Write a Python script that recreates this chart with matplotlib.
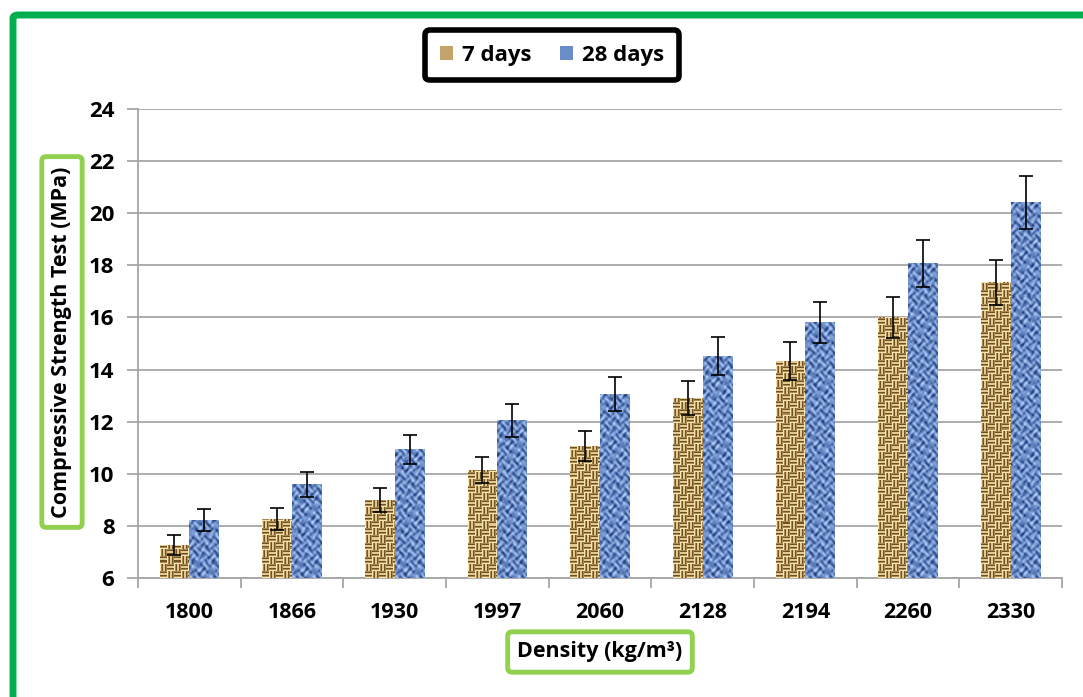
import numpy as np
import matplotlib
matplotlib.use("Agg")
import matplotlib.pyplot as plt
from matplotlib.patches import Patch, FancyBboxPatch
from matplotlib.colors import LinearSegmentedColormap

densities = ['1800', '1866', '1930', '1997', '2060', '2128', '2194', '2260', '2330']
strength_7 = [7.27, 8.26, 8.99, 10.14, 11.07, 12.9, 14.33, 16.0, 17.35]
strength_28 = [8.23, 9.6, 10.94, 12.06, 13.06, 14.51, 15.81, 18.08, 20.42]
err_7 = [0.37, 0.41, 0.45, 0.5, 0.57, 0.65, 0.72, 0.8, 0.87]
err_28 = [0.41, 0.48, 0.55, 0.63, 0.65, 0.73, 0.78, 0.9, 1.02]
yticks = [6, 8, 10, 12, 14, 16, 18, 20, 22, 24]

plt.rcParams['font.family'] = ['Open Sans', 'DejaVu Sans']
plt.rcParams['font.weight'] = 'bold'

tan_cmap = LinearSegmentedColormap.from_list('tan', ['#6f5224', '#c09e62', '#f8e6ae'])
blue_cmap = LinearSegmentedColormap.from_list('blu', ['#1d3a78', '#6a8cc8', '#b6d0f7'])


def weave(h, w):
    # basket weave look
    y, x = np.mgrid[0:h, 0:w]
    cell = 7
    checker = ((x // cell + y // cell) % 2) == 0
    return np.where(checker, 0.5 + 0.45 * np.cos(2 * np.pi * y / 3.5),
                    0.5 + 0.45 * np.cos(2 * np.pi * x / 3.5))


def mottle(h, w):
    y, x = np.mgrid[0:h, 0:w].astype(float)
    v = (np.sin(x * 0.9 + 2.2 * np.sin(y * 0.5)) +
         np.sin(y * 0.8 + 2.0 * np.cos(x * 0.63)) +
         0.6 * np.sin(x * 0.35 + y * 0.6))
    return (v - v.min()) / (v.max() - v.min())


fig = plt.figure(figsize=(10.83, 6.97), dpi=100)
ax = fig.add_axes([138 / 1083, 1 - 578 / 697, (1062 - 138) / 1083, (578 - 109) / 697])

x = np.arange(len(densities))
w = 0.29
b7 = ax.bar(x - w / 2, np.array(strength_7) - 6, w, bottom=6, color='#c4a46a', zorder=2)
b28 = ax.bar(x + w / 2, np.array(strength_28) - 6, w, bottom=6, color='#6a8cc8', zorder=2)

for bars, tex, cm in [(b7, weave, tan_cmap), (b28, mottle, blue_cmap)]:
    for p in bars:
        x0, y0 = p.get_x(), p.get_y()
        bw, bh = p.get_width(), p.get_height()
        hp, wp = max(int(bh * 26), 2), 30
        im = ax.imshow(tex(hp, wp), cmap=cm, extent=[x0, x0 + bw, y0, y0 + bh],
                       aspect='auto', origin='lower', interpolation='nearest', zorder=3)
        im.set_clip_path(p)

ax.errorbar(x - w / 2, strength_7, yerr=err_7, fmt='none', ecolor='black',
            elinewidth=1.2, capsize=5, capthick=1.2, zorder=4)
ax.errorbar(x + w / 2, strength_28, yerr=err_28, fmt='none', ecolor='black',
            elinewidth=1.2, capsize=5, capthick=1.2, zorder=4)

ax.set_xlim(-0.5, len(densities) - 0.5)
ax.set_ylim(6, 24)
ax.set_yticks(yticks)
ax.set_yticklabels([str(t) for t in yticks], fontsize=16, fontweight='bold')
ax.yaxis.grid(True, color='#a6a6a6', linewidth=1.3, zorder=0)
ax.set_axisbelow(True)
ax.tick_params(axis='y', length=8, width=1.3, color='#a6a6a6', pad=9)

ax.set_xticks(np.arange(len(densities) + 1) - 0.5)
ax.set_xticklabels([])
ax.tick_params(axis='x', which='major', length=7, width=1.3, color='#a6a6a6')
ax.set_xticks(x, minor=True)
ax.set_xticklabels(densities, minor=True, fontsize=15.5, fontweight='bold')
ax.tick_params(axis='x', which='minor', length=0, pad=17)

for s in ['top', 'right']:
    ax.spines[s].set_visible(False)
for s in ['left', 'bottom']:
    ax.spines[s].set_color('#a6a6a6')
    ax.spines[s].set_linewidth(1.3)

fig.text(62 / 1083, 1 - 342 / 697, 'Compressive Strength Test (MPa)', rotation=90,
         ha='center', va='center', fontsize=15.5, fontweight='bold',
         bbox=dict(boxstyle='round,pad=0.45,rounding_size=0.2', fc='white', ec='#92d050', lw=3.5))
fig.text(600 / 1083, 1 - 652 / 697, 'Density (kg/m³)', ha='center', va='center',
         fontsize=15.5, fontweight='bold',
         bbox=dict(boxstyle='round,pad=0.45,rounding_size=0.2', fc='white', ec='#92d050', lw=3.5))

handles = [Patch(facecolor='#c4a46a'), Patch(facecolor='#6a8cc8')]
leg = fig.legend(handles, ['7 days', '28 days'], loc='center', bbox_to_anchor=(552 / 1083, 1 - 55 / 697),
                 ncol=2, frameon=True, fancybox=True, prop={'size': 16, 'weight': 'bold'},
                 handlelength=0.6, handleheight=0.6, handletextpad=0.4, columnspacing=1.3,
                 borderpad=0.65, borderaxespad=0)
leg.get_frame().set_edgecolor('black')
leg.get_frame().set_linewidth(4)
leg.get_frame().set_alpha(1)

frame = FancyBboxPatch((13 / 1083, -0.1), 1.2, 1 - 15 / 697 + 0.1, transform=fig.transFigure,
                       boxstyle='round,pad=0,rounding_size=0.005', fc='none', ec='#00b050',
                       lw=5, clip_on=False)
fig.patches.append(frame)

fig.savefig('out.png', dpi=100)
